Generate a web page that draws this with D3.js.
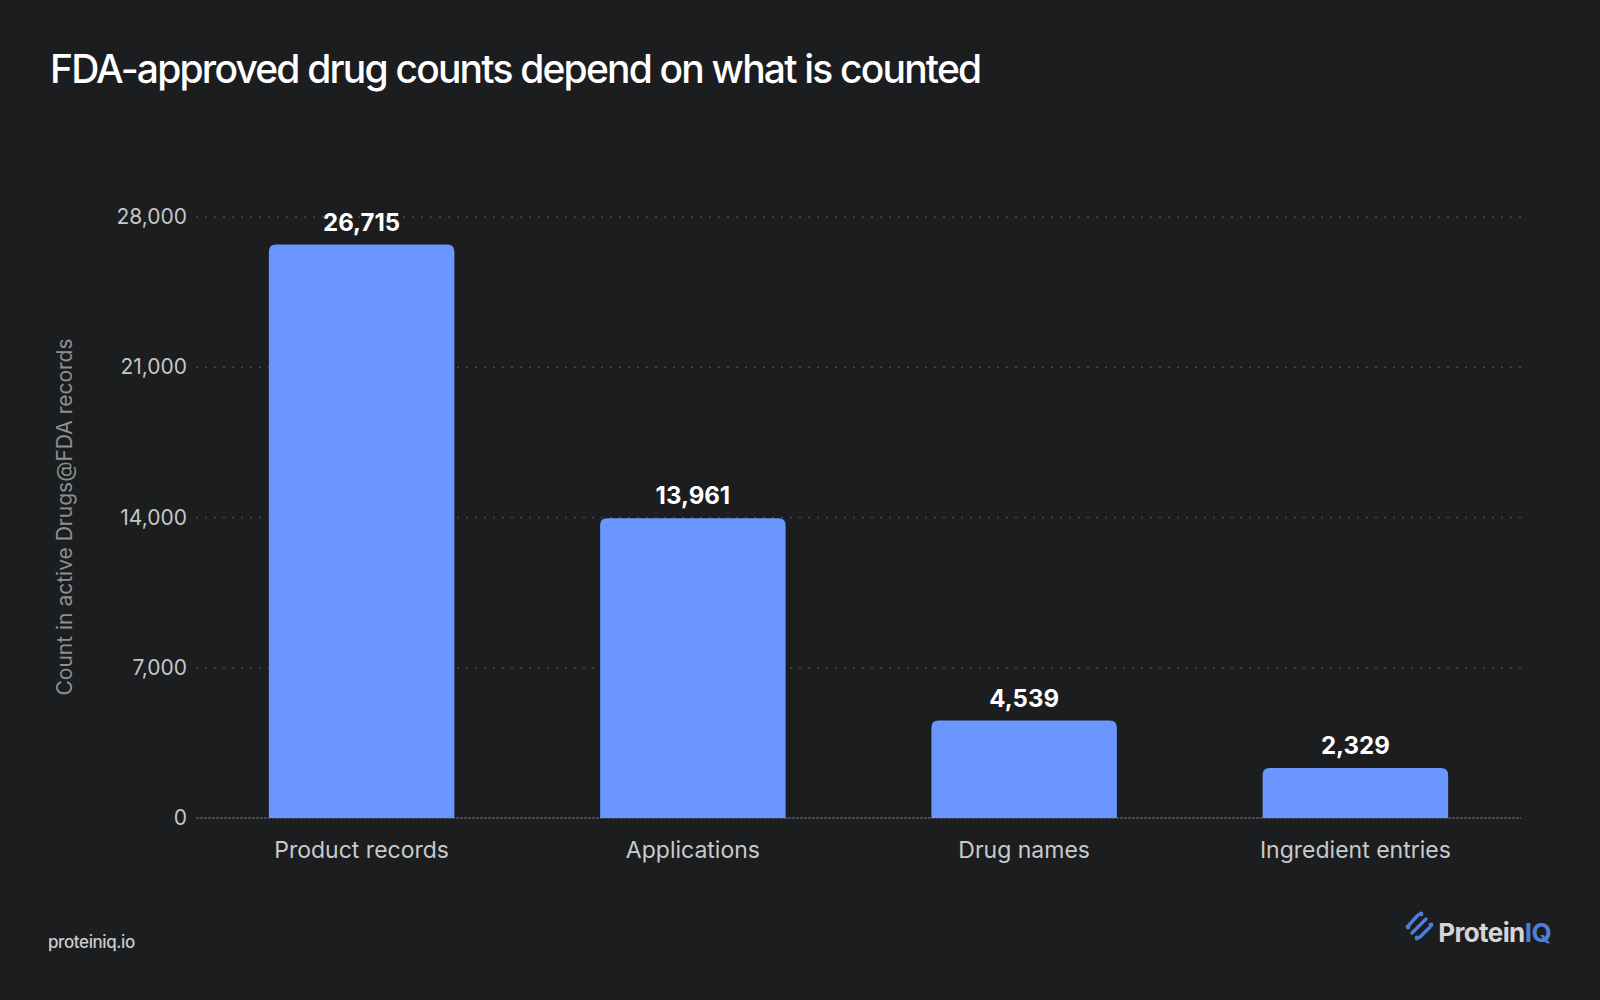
<!DOCTYPE html>
<html>
<head>
<meta charset="utf-8">
<script src="https://cdn.jsdelivr.net/npm/d3@7"></script>
<style>
  html, body { margin: 0; padding: 0; background: #1c1d1f; }
  svg { display: block; font-family: Inter, "Noto Sans", sans-serif; }
</style>
</head>
<body>
<div id="wrapper"></div>
<script>
const categories = ["Product records", "Applications", "Drug names", "Ingredient entries"];
const counts = [26715, 13961, 4539, 2329];
const yTicks = [0, 7000, 14000, 21000, 28000];

function buildChart() {
    const dimension = {
        width: 1600,
        height: 1000,
        margin: { top: 217, left: 196, bottom: 182, right: 79 }
    };
    dimension.boundedBottom = dimension.height - dimension.margin.bottom;
    dimension.boundedRight = dimension.width - dimension.margin.right;

    const svg = d3.select("#wrapper").append("svg")
        .attr("width", dimension.width)
        .attr("height", dimension.height);

    svg.append("rect")
        .attr("width", dimension.width)
        .attr("height", dimension.height)
        .attr("fill", "#1c1d1f");

    const xScaler = d3.scaleBand()
        .domain(categories)
        .range([dimension.margin.left, dimension.boundedRight])
        .paddingInner(0.44)
        .paddingOuter(0.22);

    const yScaler = d3.scaleLinear()
        .domain([0, 28000])
        .range([dimension.boundedBottom, dimension.margin.top]);

    // title
    svg.append("text")
        .attr("x", 50)
        .attr("y", 83)
        .attr("fill", "#ffffff")
        .attr("font-size", 39)
        .attr("font-weight", 500)
        .attr("letter-spacing", -1.8)
        .text("FDA-approved drug counts depend on what is counted");

    // gridlines + y labels
    const yAxisGenerator = d3.axisLeft(yScaler)
        .tickValues(yTicks)
        .tickFormat(d3.format(","))
        .tickSize(0)
        .tickPadding(9);

    const yAxis = svg.append("g")
        .attr("transform", `translate(${dimension.margin.left},0)`)
        .call(yAxisGenerator);
    yAxis.select(".domain").remove();
    yAxis.selectAll("text")
        .attr("fill", "#c4c6c8")
        .attr("font-size", 21)
        .attr("font-family", "Inter, sans-serif");

    svg.append("g").selectAll("line")
        .data(yTicks)
        .join("line")
        .attr("x1", dimension.margin.left)
        .attr("x2", dimension.boundedRight)
        .attr("y1", d => yScaler(d))
        .attr("y2", d => yScaler(d))
        .attr("stroke", d => d === 0 ? "#55575b" : "#46484b")
        .attr("stroke-width", 1.3)
        .attr("stroke-dasharray", d => d === 0 ? "3,1" : "2,7");

    svg.append("text")
        .attr("transform", `translate(72,517) rotate(-90)`)
        .attr("text-anchor", "middle")
        .attr("fill", "#8d8f92")
        .attr("font-size", 21)
        .text("Count in active Drugs@FDA records");

    // bars with rounded top corners
    const r = 7;
    const barPath = (d, i) => {
        const x0 = xScaler(categories[i]);
        const x1 = x0 + xScaler.bandwidth();
        const y0 = yScaler(d);
        const yb = yScaler(0);
        return `M${x0},${yb} L${x0},${y0 + r} Q${x0},${y0} ${x0 + r},${y0} ` +
               `L${x1 - r},${y0} Q${x1},${y0} ${x1},${y0 + r} L${x1},${yb} Z`;
    };

    svg.append("g").selectAll("path")
        .data(counts)
        .join("path")
        .attr("d", barPath)
        .attr("fill", "#6b95ff");

    svg.append("g").selectAll("text")
        .data(counts)
        .join("text")
        .attr("x", (d, i) => xScaler(categories[i]) + xScaler.bandwidth() / 2)
        .attr("y", d => yScaler(d) - 14)
        .attr("text-anchor", "middle")
        .attr("fill", "#ffffff")
        .attr("font-size", 24)
        .attr("font-weight", 700)
        .text(d => d3.format(",")(d));

    // x labels
    const xAxisGenerator = d3.axisBottom(xScaler).tickSize(0).tickPadding(24);
    const xAxis = svg.append("g")
        .attr("transform", `translate(0,${dimension.boundedBottom})`)
        .call(xAxisGenerator);
    xAxis.select(".domain").remove();
    xAxis.selectAll("text")
        .attr("fill", "#c8cacc")
        .attr("font-size", 23)
        .attr("font-family", "Inter, sans-serif");

    // footer
    svg.append("text")
        .attr("x", 48)
        .attr("y", 948)
        .attr("fill", "#c8cacc")
        .attr("font-size", 17)
        .attr("font-weight", 500)
        .attr("letter-spacing", -0.4)
        .text("proteiniq.io");

    const brand = svg.append("text")
        .attr("x", 1551)
        .attr("y", 942)
        .attr("text-anchor", "end")
        .attr("font-size", 26)
        .attr("font-weight", 700)
        .attr("letter-spacing", -0.6)
        .attr("fill", "#d4d5d6");
    brand.append("tspan").text("Protein");
    brand.append("tspan").attr("fill", "#4d7fd8").text("IQ");

    const logo = svg.append("g")
        .attr("transform", "translate(1419,926)")
        .attr("stroke", "#4d7fd8")
        .attr("fill", "#4d7fd8")
        .attr("stroke-linecap", "round")
        .attr("stroke-width", 3.4);
    [[-10, -1, -1, -11], [-7, 7, 7, -7], [1, 11, 11, 1]].forEach(s => {
        logo.append("line")
            .attr("x1", s[0]).attr("y1", s[1])
            .attr("x2", s[2]).attr("y2", s[3]);
    });
    [[-11, 1], [2, -12], [-2, 12], [12, -1]].forEach(p => {
        logo.append("circle").attr("cx", p[0]).attr("cy", p[1]).attr("r", 2.4).attr("stroke", "none");
    });
}

buildChart();
</script>
</body>
</html>
